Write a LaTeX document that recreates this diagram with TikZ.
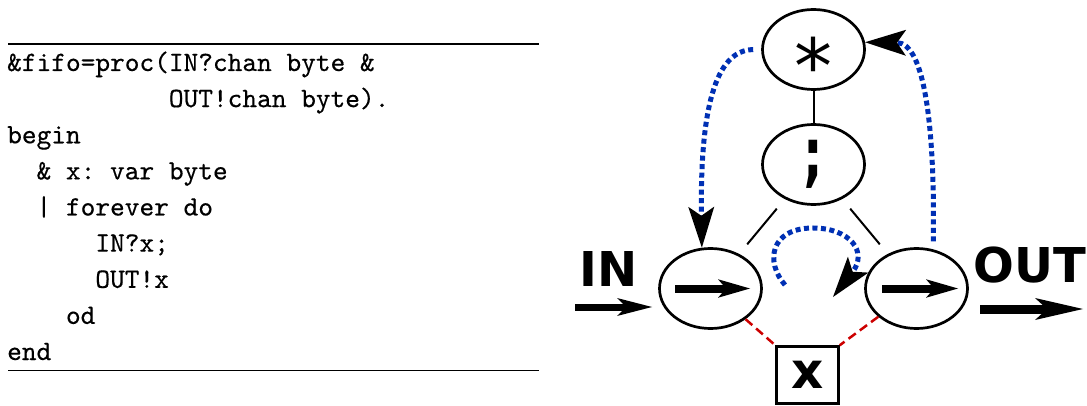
\documentclass[tikz,border=0pt]{standalone}
\usepackage{fontspec}
\newfontfamily\labelfont{DejaVu Sans}
\newfontfamily\codefont{lmmono10-regular.otf}[FakeBold=0.4]
\usetikzlibrary{arrows.meta,shapes.geometric}
\definecolor{flowblue}{RGB}{0,48,180}
\definecolor{bindred}{RGB}{204,0,0}
\begin{document}
\begin{tikzpicture}[x=1pt,y=-1pt,
  codeline/.style={anchor=base west,inner sep=0pt,font=\codefont\fontsize{28}{36}\selectfont\frenchspacing},
  rulebar/.style={line width=1.8pt},
  opnode/.style={ellipse,draw,line width=2.7pt,minimum width=102pt,minimum height=80pt,inner sep=0pt},
  varbox/.style={rectangle,draw,line width=2.5pt,minimum width=62pt,minimum height=57pt,inner sep=0pt,
    font=\labelfont\bfseries\fontsize{50}{50}\selectfont},
  chanlabel/.style={inner sep=0pt,font=\labelfont\bfseries\fontsize{48}{48}\selectfont},
  tree/.style={line width=2pt},
  fatarrow/.style={-{Stealth[length=32pt,width=18.5pt,inset=8pt,line width=0pt]},line width=8pt},
  flow/.style={flowblue,line width=5pt,dash pattern=on 5pt off 3.5pt,
    -{Stealth[length=41pt,width=26pt,inset=9pt,line width=0pt,color=black]}},
  bind/.style={bindred,line width=2.5pt,dash pattern=on 9pt off 5pt}]
\useasboundingbox (0,0) rectangle (1087,406);

% program text
\draw[rulebar] (8,44) -- (539,44);
\draw[rulebar] (8,370.5) -- (539,370.5);
\node[codeline] (l1) at (7,71) {\&fifo=proc(IN?chan byte \&};
\node[codeline] (l2) at (168.7,107.1) {OUT!chan byte).};
\node[codeline] (l3) at (7,143.3) {begin};
\node[codeline] (l4) at (36.4,179.4) {\& x: var byte};
\node[codeline] (l5) at (36.4,215.5) {| forever do};
\node[codeline] (l6) at (95.2,251.6) {IN?x;};
\node[codeline] (l7) at (95.2,287.8) {OUT!x};
\node[codeline] (l8) at (65.8,323.9) {od};
\node[codeline] (l9) at (7,360) {end};

% syntax tree
\node[opnode,font=\labelfont\fontsize{76}{76}\selectfont] (star) at (813.5,49.5)
  {\raisebox{-0.58em}[0pt][0pt]{*}};
\node[opnode,font=\labelfont\bfseries\fontsize{70}{70}\selectfont] (seq) at (813.5,164.5)
  {\scalebox{0.7}[1]{;}};
\node[opnode] (inL) at (710.5,288.5) {};
\node[opnode] (inR) at (916.5,288.5) {};
\node[varbox] (x) at (807.5,375) {x};

\draw[tree] (star) -- (seq);
\draw[tree,shorten <=12.5pt,shorten >=12.5pt] (seq) -- (inL);
\draw[tree,shorten <=12.5pt,shorten >=12.5pt] (seq) -- (inR);

% arrows drawn inside the two communication nodes
\draw[fatarrow] ([xshift=-35.5pt]inL.center) -- ([xshift=39.5pt]inL.center);
\draw[fatarrow] ([xshift=-34.5pt]inR.center) -- ([xshift=41.5pt]inR.center);

% channels
\node[chanlabel] (IN) at (608.5,269.5) {IN};
\node[chanlabel] (OUT) at (1030,265) {OUT};
\coordinate (inSrc) at (575,307);
\coordinate (inDst) at (652,307);
\draw[line width=7pt,-{Stealth[length=35pt,width=18pt,inset=9pt,line width=0pt]}]
  (inSrc) -- (inDst);
\coordinate (outSrc) at (980,309);
\coordinate (outDst) at (1083,309);
\draw[line width=9pt,-{Stealth[length=48pt,width=22pt,inset=12pt,line width=0pt]}]
  (outSrc) -- (outDst);

% control flow
\draw[flow,shorten <=8pt] (star.west) .. controls (715,50) and (700,110) .. (inL.102);
\draw[flow,shorten <=8pt] (inR.67) .. controls (935,130) and (925,43) .. (star.8);
\coordinate (loopStart) at (785,285);
\coordinate (loopTop) at (813,228);
\coordinate (loopEnd) at (833,297);
\draw[flow] (loopStart) .. controls (765,262) and (770,228) .. (loopTop)
  .. controls (850,228) and (868,252) .. (loopEnd);

% variable binding
\draw[bind] (inL) -- (x.north west);
\draw[bind] (inR) -- (x.north east);
\end{tikzpicture}
\end{document}
